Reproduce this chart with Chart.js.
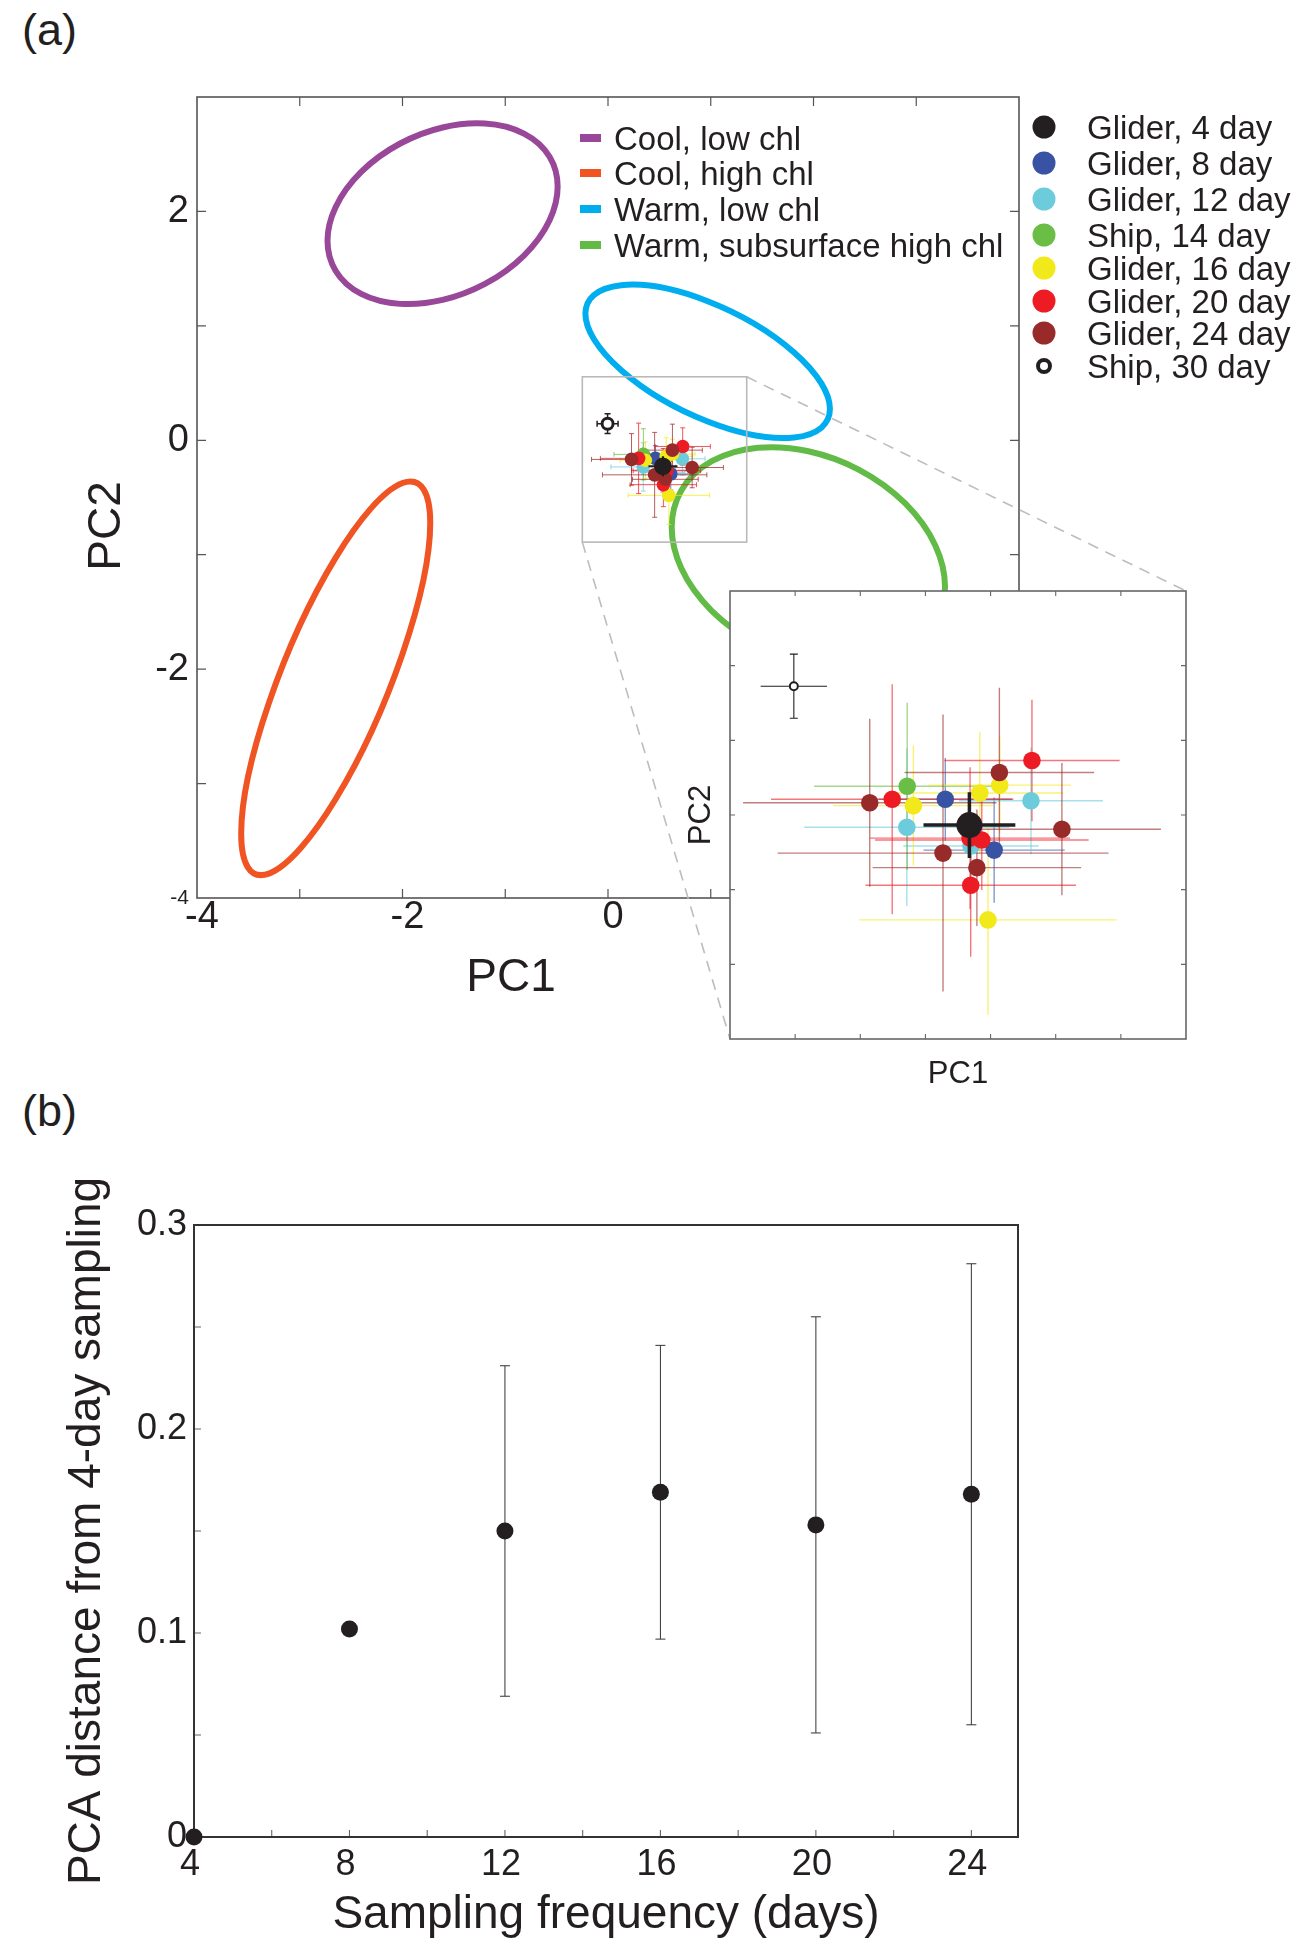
<!DOCTYPE html>
<html><head><meta charset="utf-8">
<script src="https://cdn.jsdelivr.net/npm/chart.js@4.4.1/dist/chart.umd.min.js"></script>
<style>
html,body{margin:0;padding:0;background:#fff;width:1316px;height:1956px;overflow:hidden;}
canvas{position:absolute;}
.lab{position:absolute;font-family:"Liberation Sans",Arial,sans-serif;font-size:45px;line-height:45px;color:#231f20;}
</style></head><body>
<div class="lab" style="left:22px;top:7px">(a)</div>
<div class="lab" style="left:22px;top:1088px">(b)</div>
<canvas id="cMain" width="1316" height="1080" style="left:0;top:0;width:1316px;height:1080px"></canvas>
<canvas id="cInset" width="560" height="540" style="left:650px;top:560px;width:560px;height:540px"></canvas>
<canvas id="cB" width="1316" height="876" style="left:0;top:1080px;width:1316px;height:876px"></canvas>
<script>
// ---------------- Panel (a): water-mass regimes (confidence ellipses in PC space) ----------------
const regimeNames  = ['Cool, low chl', 'Cool, high chl', 'Warm, low chl', 'Warm, subsurface high chl'];
const regimeColors = ['#984799', '#F05423', '#00AEEF', '#62BB46'];
const ellCX = [-1.61, -2.65, 0.97, 1.95];   // ellipse centre, PC1
const ellCY = [1.98, -2.08, 0.69, -1.02];   // ellipse centre, PC2
const ellSX = [1.12, 0.92, 1.19, 1.33];     // half extent along PC1
const ellSY = [0.79, 1.72, 0.67, 0.96];     // half extent along PC2
const ellR  = [0.30, 0.79, -0.62, -0.27];   // PC1-PC2 correlation of ellipse

// ---------------- Panel (a): sampling-strategy means (PC1, PC2) with error bars ----------------
const sampleNames  = ['Glider, 4 day', 'Glider, 8 day', 'Glider, 12 day', 'Ship, 14 day',
                      'Glider, 16 day', 'Glider, 20 day', 'Glider, 24 day', 'Ship, 30 day'];
const sampleColors = ['#231F20', '#3953A4', '#6CCCDC', '#6ABD45', '#F2E91A', '#ED1C24', '#992A2A', '#231F20'];
const samplePC1 = [
  [0.535],
  [0.461, 0.611],
  [0.343, 0.724, 0.540],
  [0.344],
  [0.363, 0.567, 0.628, 0.592],
  [0.298, 0.727, 0.573, 0.537, 0.539],
  [0.229, 0.627, 0.819, 0.454, 0.558],
  [-0.004]
];
const samplePC2 = [
  [-0.227],
  [-0.158, -0.294],
  [-0.233, -0.162, -0.283],
  [-0.123],
  [-0.175, -0.141, -0.120, -0.481],
  [-0.158, -0.054, -0.267, -0.262, -0.388],
  [-0.167, -0.086, -0.238, -0.302, -0.341],
  [0.145]
];
const sampleErrPC1 = [
  [0.141],
  [0.205, 0.217],
  [0.315, 0.221, 0.208],
  [0.286],
  [0.246, 0.256, 0.219, 0.395],
  [0.372, 0.269, 0.328, 0.307, 0.323],
  [0.389, 0.291, 0.304, 0.508, 0.320],
  [0.102]
];
const sampleErrPC2 = [
  [0.088],
  [0.111, 0.141],
  [0.211, 0.143, 0.089],
  [0.224],
  [0.161, 0.163, 0.129, 0.254],
  [0.308, 0.163, 0.134, 0.190, 0.192],
  [0.225, 0.227, 0.177, 0.371, 0.156],
  [0.086]
];
const sampleOrder = [0, 7, 6, 5, 4, 3, 2, 1];

// zoom box drawn on the main PCA plot, and the PC ranges of the inset
const zoomBoxPC1 = [-0.25, 1.35];
const zoomBoxPC2 = [-0.89, 0.555];
const insetPC1Range = [-0.2, 1.2];
const insetPC2Range = [-0.8, 0.4];

// ---------------- Panel (b) ----------------
const freqDays   = [4, 8, 12, 16, 20, 24];
const pcaDist    = [0, 0.102, 0.150, 0.169, 0.153, 0.168];
const pcaDistErr = [0, 0, 0.081, 0.072, 0.102, 0.113];

// ================= drawing =================
const FF = '"Liberation Sans", Arial, Helvetica, sans-serif';
const INK = '#231f20';
function rgba(hex, a) { const n = parseInt(hex.slice(1), 16); return 'rgba(' + ((n >> 16) & 255) + ',' + ((n >> 8) & 255) + ',' + (n & 255) + ',' + a + ')'; }

function sampleDatasets(sz) {
  return sampleNames.map((name, g) => ({
    label: name,
    data: samplePC1[g].map((v, i) => ({ x: v, y: samplePC2[g][i], ex: sampleErrPC1[g][i], ey: sampleErrPC2[g][i] })),
    backgroundColor: g === 7 ? '#ffffff' : sampleColors[g],
    borderColor: sampleColors[g],
    borderWidth: g === 7 ? sz.openBorder : 0,
    pointRadius: g === 0 ? sz.big : (g === 7 ? sz.open : sz.r),
    pointHoverRadius: g === 0 ? sz.big : (g === 7 ? sz.open : sz.r),
    order: sampleOrder[g],
    clip: false
  }));
}

function drawBars(chart, g, st) {
  const ds = chart.data.datasets[g];
  const { ctx, scales: { x, y } } = chart;
  ctx.save();
  ctx.strokeStyle = (g === 0 || g === 7) ? INK : rgba(sampleColors[g], st.alpha);
  ctx.lineWidth = g === 0 ? st.bigW : (g === 7 ? st.openW : st.w);
  const c = g === 0 ? 0 : (g === 7 ? st.openCap : st.cap);
  ds.data.forEach(p => {
    const px = x.getPixelForValue(p.x), py = y.getPixelForValue(p.y);
    const x0 = x.getPixelForValue(p.x - p.ex), x1 = x.getPixelForValue(p.x + p.ex);
    const y0 = y.getPixelForValue(p.y - p.ey), y1 = y.getPixelForValue(p.y + p.ey);
    ctx.beginPath();
    ctx.moveTo(x0, py); ctx.lineTo(x1, py);
    ctx.moveTo(px, y0); ctx.lineTo(px, y1);
    if (c) {
      ctx.moveTo(px - c, y0); ctx.lineTo(px + c, y0);
      ctx.moveTo(px - c, y1); ctx.lineTo(px + c, y1);
      if (st.xcap) { ctx.moveTo(x0, py - c); ctx.lineTo(x0, py + c); ctx.moveTo(x1, py - c); ctx.lineTo(x1, py + c); }
    }
    ctx.stroke();
  });
  ctx.restore();
}

function frameTicks(chart, o) {
  const { ctx, chartArea: a, scales: { x, y } } = chart;
  ctx.save();
  ctx.strokeStyle = o.tickColor; ctx.lineWidth = o.tickW;
  ctx.beginPath();
  x.ticks.forEach(t => {
    const p = x.getPixelForValue(t.value);
    if (p < a.left + 1 || p > a.right - 1) return;
    ctx.moveTo(p, a.bottom); ctx.lineTo(p, a.bottom - o.len);
    if (o.all) { ctx.moveTo(p, a.top); ctx.lineTo(p, a.top + o.len); }
  });
  y.ticks.forEach(t => {
    const p = y.getPixelForValue(t.value);
    if (p < a.top + 1 || p > a.bottom - 1) return;
    ctx.moveTo(a.left, p); ctx.lineTo(a.left + o.len, p);
    if (o.all) { ctx.moveTo(a.right, p); ctx.lineTo(a.right - o.len, p); }
  });
  ctx.stroke();
  ctx.strokeStyle = o.frameColor; ctx.lineWidth = o.frameW;
  ctx.strokeRect(a.left, a.top, a.right - a.left, a.bottom - a.top);
  ctx.restore();
}

function drawEllipses(chart) {
  const { ctx, scales: { x, y } } = chart;
  for (let i = 0; i < regimeNames.length; i++) {
    const px0 = x.getPixelForValue(ellCX[i]), py0 = y.getPixelForValue(ellCY[i]);
    const kx = x.getPixelForValue(ellCX[i] + 1) - px0;
    const ky = py0 - y.getPixelForValue(ellCY[i] + 1);
    const l11 = ellSX[i], l21 = ellR[i] * ellSY[i], l22 = ellSY[i] * Math.sqrt(1 - ellR[i] * ellR[i]);
    ctx.save();
    ctx.beginPath();
    ctx.save();
    ctx.transform(kx * l11, -ky * l21, 0, -ky * l22, px0, py0);
    ctx.arc(0, 0, 1, 0, Math.PI * 2);
    ctx.restore();
    ctx.strokeStyle = regimeColors[i];
    ctx.lineWidth = 6;
    ctx.stroke();
    ctx.restore();
  }
}

// inset chart area on page (for zoom connector lines)
const INSET_LEFT = 650, INSET_TOP = 560;
const insetArea = { left: 80, top: 31, right: 536, bottom: 479 };

Chart.defaults.font.family = FF;
Chart.defaults.color = INK;

const mainBars = { alpha: 0.75, w: 1, bigW: 2.2, openW: 1.5, cap: 2.5, openCap: 3, xcap: true };

const mainPlugin = {
  id: 'mainDecor',
  beforeDatasetsDraw(chart) {
    drawEllipses(chart);
    const { ctx, scales: { x, y } } = chart;
    ctx.save();
    ctx.strokeStyle = '#b9b9b9'; ctx.lineWidth = 1.6;
    const bx0 = x.getPixelForValue(zoomBoxPC1[0]), bx1 = x.getPixelForValue(zoomBoxPC1[1]);
    const by0 = y.getPixelForValue(zoomBoxPC2[1]), by1 = y.getPixelForValue(zoomBoxPC2[0]);
    ctx.strokeRect(bx0, by0, bx1 - bx0, by1 - by0);
    ctx.restore();
    for (let g = 1; g < sampleNames.length; g++) drawBars(chart, g, mainBars);
  },
  beforeDatasetDraw(chart, args) {
    if (args.index === 0) drawBars(chart, 0, mainBars);
  },
  afterDraw(chart) {
    const { ctx, scales: { x, y } } = chart;
    frameTicks(chart, { tickColor: '#555', tickW: 1.2, len: 9, all: true, frameColor: '#555', frameW: 1.6 });
    const bx0 = x.getPixelForValue(zoomBoxPC1[0]), bx1 = x.getPixelForValue(zoomBoxPC1[1]);
    const byTop = y.getPixelForValue(zoomBoxPC2[1]), byBot = y.getPixelForValue(zoomBoxPC2[0]);
    ctx.save();
    ctx.strokeStyle = '#bdbdbd'; ctx.lineWidth = 1.6; ctx.setLineDash([11, 8]);
    ctx.beginPath();
    ctx.moveTo(bx1, byTop); ctx.lineTo(INSET_LEFT + insetArea.right, INSET_TOP + insetArea.top);
    ctx.moveTo(bx0, byBot); ctx.lineTo(INSET_LEFT + insetArea.left, INSET_TOP + insetArea.bottom);
    ctx.stroke();
    ctx.restore();
    // regime legend
    const rowsA = [138, 173, 209, 245];
    ctx.save();
    ctx.font = '33px ' + FF; ctx.fillStyle = INK; ctx.textAlign = 'left'; ctx.textBaseline = 'alphabetic';
    regimeNames.forEach((n, i) => {
      ctx.fillStyle = regimeColors[i];
      ctx.fillRect(580, rowsA[i] - 4, 21, 8);
      ctx.fillStyle = INK;
      ctx.fillText(n, 614, rowsA[i] + 12);
    });
    // sampling legend
    const rowsB = [127, 163, 199, 235, 268, 301, 333, 366];
    sampleNames.forEach((n, g) => {
      ctx.beginPath();
      if (g === 7) {
        ctx.arc(1044, rowsB[g], 6, 0, Math.PI * 2);
        ctx.fillStyle = '#fff'; ctx.fill();
        ctx.lineWidth = 4; ctx.strokeStyle = INK; ctx.stroke();
      } else {
        ctx.arc(1044, rowsB[g], 11.5, 0, Math.PI * 2);
        ctx.fillStyle = sampleColors[g]; ctx.fill();
      }
      ctx.fillStyle = INK;
      ctx.fillText(n, 1087, rowsB[g] + 12);
    });
    // axis titles
    ctx.font = '46px ' + FF; ctx.textAlign = 'center';
    ctx.fillText('PC1', 511, 991);
    ctx.translate(120, 526); ctx.rotate(-Math.PI / 2);
    ctx.fillText('PC2', 0, 0);
    ctx.restore();
  }
};

new Chart(document.getElementById('cMain'), {
  type: 'scatter',
  data: { datasets: sampleDatasets({ r: 6.8, big: 8.8, open: 5.5, openBorder: 3 }) },
  options: {
    responsive: false, animation: false, devicePixelRatio: 1,
    layout: { padding: { left: 97, right: 297, top: 97, bottom: 82 } },
    plugins: { legend: { display: false }, tooltip: { enabled: false } },
    scales: {
      x: {
        type: 'linear', min: -4, max: 4,
        grid: { display: false, drawTicks: false }, border: { display: false },
        ticks: { stepSize: 1, autoSkip: false, maxRotation: 0, padding: 1, labelOffset: 5, color: INK,
                 font: { family: FF, size: 38, lineHeight: 1 },
                 callback: v => (Number.isInteger(v) && v % 2 === 0) ? String(v) : '' },
        afterFit: s => { s.height = 100; }
      },
      y: {
        type: 'linear', min: -4, max: 3,
        grid: { display: false, drawTicks: false }, border: { display: false },
        ticks: { stepSize: 1, autoSkip: false, padding: 8, color: INK,
                 font: c => ({ family: FF, size: (c.tick && c.tick.value === -4) ? 21 : 38, lineHeight: 1 }),
                 callback: v => (Number.isInteger(v) && v % 2 === 0) ? String(v) : '' },
        afterFit: s => { s.width = 100; }
      }
    }
  },
  plugins: [mainPlugin]
});

// ---------------- inset ----------------
const insetBars = { alpha: 0.6, w: 1.4, bigW: 3.5, openW: 1.1, cap: 0, openCap: 4, xcap: false };
const insetPlugin = {
  id: 'insetDecor',
  beforeDraw(chart) {
    const { ctx, chartArea: a } = chart;
    ctx.save(); ctx.fillStyle = '#fff'; ctx.fillRect(a.left, a.top, a.right - a.left, a.bottom - a.top); ctx.restore();
  },
  beforeDatasetsDraw(chart) {
    const { ctx, chartArea: a } = chart;
    ctx.save();
    ctx.beginPath(); ctx.rect(a.left, a.top, a.right - a.left, a.bottom - a.top); ctx.clip();
    for (let g = 1; g < sampleNames.length; g++) drawBars(chart, g, insetBars);
    ctx.restore();
  },
  beforeDatasetDraw(chart, args) {
    if (args.index === 0) drawBars(chart, 0, insetBars);
  },
  afterDraw(chart) {
    frameTicks(chart, { tickColor: '#666', tickW: 1.1, len: 5, all: true, frameColor: '#666', frameW: 1.6 });
  }
};

new Chart(document.getElementById('cInset'), {
  type: 'scatter',
  data: { datasets: sampleDatasets({ r: 8.8, big: 13, open: 4, openBorder: 2 }) },
  options: {
    responsive: false, animation: false, devicePixelRatio: 1,
    layout: { padding: { left: 20, right: 24, top: 31, bottom: 0 } },
    plugins: { legend: { display: false }, tooltip: { enabled: false } },
    scales: {
      x: {
        type: 'linear', min: insetPC1Range[0], max: insetPC1Range[1],
        grid: { display: false, drawTicks: false }, border: { display: false },
        ticks: { stepSize: 0.2, autoSkip: false, callback: () => '' },
        title: { display: true, text: 'PC1', color: INK, font: { family: FF, size: 31 }, padding: { top: 0, bottom: 7 } },
        afterFit: s => { s.height = 61; }
      },
      y: {
        type: 'linear', min: insetPC2Range[0], max: insetPC2Range[1],
        grid: { display: false, drawTicks: false }, border: { display: false },
        ticks: { stepSize: 0.2, autoSkip: false, callback: () => '' },
        title: { display: true, text: 'PC2', color: INK, font: { family: FF, size: 31 }, padding: { top: 13, bottom: 0 } },
        afterFit: s => { s.width = 60; }
      }
    }
  },
  plugins: [insetPlugin]
});

// ---------------- panel (b) ----------------
const bPlugin = {
  id: 'bDecor',
  beforeDatasetsDraw(chart) {
    frameTicks(chart, { tickColor: '#666', tickW: 1.1, len: 7, all: false, frameColor: '#333', frameW: 2 });
    const { ctx, scales: { x, y } } = chart;
    ctx.save(); ctx.strokeStyle = '#333'; ctx.lineWidth = 1;
    freqDays.forEach((d, i) => {
      if (!pcaDistErr[i]) return;
      const px = x.getPixelForValue(d);
      const y0 = y.getPixelForValue(pcaDist[i] - pcaDistErr[i]), y1 = y.getPixelForValue(pcaDist[i] + pcaDistErr[i]);
      ctx.beginPath();
      ctx.moveTo(px, y0); ctx.lineTo(px, y1);
      ctx.moveTo(px - 5, y0); ctx.lineTo(px + 5, y0);
      ctx.moveTo(px - 5, y1); ctx.lineTo(px + 5, y1);
      ctx.stroke();
    });
    ctx.restore();
  }
};

new Chart(document.getElementById('cB'), {
  type: 'scatter',
  data: { datasets: [{
    label: 'PCA distance',
    data: freqDays.map((d, i) => ({ x: d, y: pcaDist[i] })),
    backgroundColor: INK, borderWidth: 0, pointRadius: 8.5, pointHoverRadius: 8.5, clip: false
  }] },
  options: {
    responsive: false, animation: false, devicePixelRatio: 1,
    layout: { padding: { left: 4, right: 298, top: 145, bottom: 0 } },
    plugins: { legend: { display: false }, tooltip: { enabled: false } },
    scales: {
      x: {
        type: 'linear', min: 4, max: 25.2,
        grid: { display: false, drawTicks: false }, border: { display: false },
        ticks: { stepSize: 2, includeBounds: false, autoSkip: false, maxRotation: 0, padding: 10, labelOffset: -4, color: INK,
                 font: { family: FF, size: 36, lineHeight: 1 },
                 callback: v => (Number.isInteger(v) && v % 4 === 0) ? String(v) : '' },
        title: { display: true, text: 'Sampling frequency (days)', color: INK, font: { family: FF, size: 46 }, padding: { top: 0, bottom: 13 } },
        afterFit: s => { s.height = 119; }
      },
      y: {
        type: 'linear', min: 0, max: 0.3,
        grid: { display: false, drawTicks: false }, border: { display: false },
        ticks: { stepSize: 0.05, autoSkip: false, padding: 7, color: INK,
                 font: { family: FF, size: 36, lineHeight: 1 },
                 callback: v => (Math.abs(v * 10 - Math.round(v * 10)) < 1e-6) ? String(Math.round(v * 10) / 10) : '' },
        title: { display: true, text: 'PCA distance from 4-day sampling', color: INK, font: { family: FF, size: 46 }, padding: { top: 56, bottom: 0 } },
        afterFit: s => { s.width = 190; }
      }
    }
  },
  plugins: [bPlugin]
});
</script>
</body></html>
